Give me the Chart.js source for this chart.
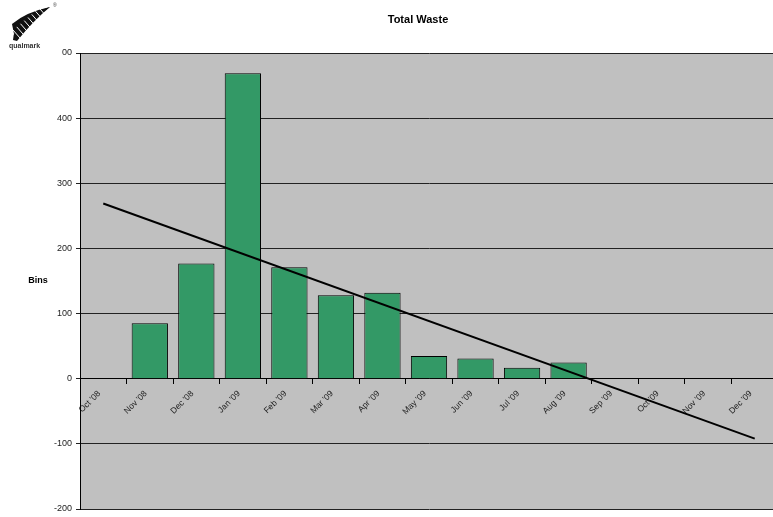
<!DOCTYPE html>
<html>
<head>
<meta charset="utf-8">
<script src="https://cdn.jsdelivr.net/npm/chart.js@4.4.1/dist/chart.umd.min.js"></script>
<style>
  html, body { margin: 0; padding: 0; background: #fff; overflow: hidden; width: 773px; height: 517px; }
  #wrap { position: relative; width: 778px; height: 517px; }
  canvas { display: block; }
</style>
</head>
<body>
<div id="wrap"><canvas id="chart" width="778" height="517"></canvas></div>
<script>
// Monthly bin counts
const months = ["Oct '08", "Nov '08", "Dec '08", "Jan '09", "Feb '09", "Mar '09", "Apr '09",
                "May '09", "Jun '09", "Jul '09", "Aug '09", "Sep '09", "Oct '09", "Nov '09", "Dec '09"];
const bins = [null, 85, 177, 469, 171, 128, 132, 35, 31, 17, 25, null, null, null, null];
// Linear trend, start and end values
const trendEnds = [269, -92];
const yTicks = { min: -200, max: 500, step: 100 };

const FONT = 'Arial, "Liberation Sans", sans-serif';

// Title, axis caption and brand mark
const decor = {
  id: 'decor',
  afterDraw(chart) {
    const ctx = chart.ctx;
    ctx.save();
    ctx.fillStyle = '#000';
    ctx.textAlign = 'center';
    ctx.textBaseline = 'middle';
    ctx.font = 'bold 11px ' + FONT;
    ctx.fillText('Total Waste', 418, 20);
    ctx.font = 'bold 9px ' + FONT;
    ctx.fillText('Bins', 38, 281);

    // brand mark
    ctx.fillStyle = '#fff';
    ctx.fillRect(0, 0, 62, 57);
    ctx.fillStyle = '#111';
    ctx.beginPath();
    ctx.moveTo(13, 40);
    ctx.quadraticCurveTo(14, 18, 50, 7);
    ctx.quadraticCurveTo(34, 20, 17, 41);
    ctx.closePath();
    ctx.fill();
    ctx.beginPath();
    ctx.moveTo(12, 24);
    ctx.quadraticCurveTo(26, 12, 50, 7);
    ctx.quadraticCurveTo(30, 20, 14, 34);
    ctx.closePath();
    ctx.fill();
    ctx.strokeStyle = '#fff';
    ctx.lineWidth = 1;
    for (let i = 0; i < 8; i++) {
      const t = i / 8;
      const x = 15 + t * 30, y = 36 - t * 25;
      ctx.beginPath();
      ctx.moveTo(x - 2, y - 6);
      ctx.lineTo(x + 5, y + 2);
      ctx.stroke();
    }
    ctx.fillStyle = '#333';
    ctx.font = 'bold 7px ' + FONT;
    ctx.textAlign = 'left';
    ctx.fillText('qualmark', 9, 46);
    ctx.font = '5px ' + FONT;
    ctx.fillText('®', 53, 6);
    ctx.restore();
  }
};

new Chart(document.getElementById('chart'), {
  data: {
    labels: months,
    datasets: [
      {
        type: 'line',
        data: [{ x: months[0], y: trendEnds[0] }, { x: months[months.length - 1], y: trendEnds[1] }],
        borderColor: '#000',
        borderWidth: 2,
        pointRadius: 0,
        tension: 0,
        order: 0
      },
      {
        type: 'bar',
        data: bins,
        backgroundColor: '#339966',
        borderColor: '#000',
        borderWidth: 1,
        barPercentage: 0.78,
        categoryPercentage: 1,
        order: 1
      }
    ]
  },
  options: {
    responsive: false,
    animation: false,
    layout: { padding: { left: 0, right: 0, top: 53, bottom: 8 } },
    plugins: { legend: { display: false }, tooltip: { enabled: false }, title: { display: false } },
    scales: {
      x: {
        type: 'category',
        position: { y: 0 },
        offset: true,
        grid: { offset: true, drawOnChartArea: false, drawTicks: true, tickLength: 5, color: '#000' },
        border: { display: true, color: '#000', width: 1 },
        ticks: { minRotation: 45, maxRotation: 45, autoSkip: false, padding: 5, labelOffset: -4, color: '#222', font: { family: FONT, size: 8.5 } }
      },
      y: {
        min: yTicks.min,
        max: yTicks.max,
        afterFit(scale) { scale.width = 80; scale.paddingTop = 0; scale.paddingBottom = 0; },
        ticks: { stepSize: yTicks.step, padding: 4, color: '#222', font: { family: FONT, size: 9 } },
        grid: { color: '#222', lineWidth: 1, tickLength: 4 },
        border: { display: true, color: '#000', width: 1 }
      }
    }
  },
  plugins: [{
    id: 'plotBg',
    beforeDraw(chart) {
      const a = chart.chartArea, ctx = chart.ctx;
      ctx.save();
      ctx.fillStyle = '#fff';
      ctx.fillRect(0, 0, chart.width, chart.height);
      ctx.fillStyle = '#c0c0c0';
      ctx.fillRect(a.left, a.top, a.right - a.left, a.bottom - a.top);
      ctx.restore();
    }
  }, decor]
});
</script>
</body>
</html>
